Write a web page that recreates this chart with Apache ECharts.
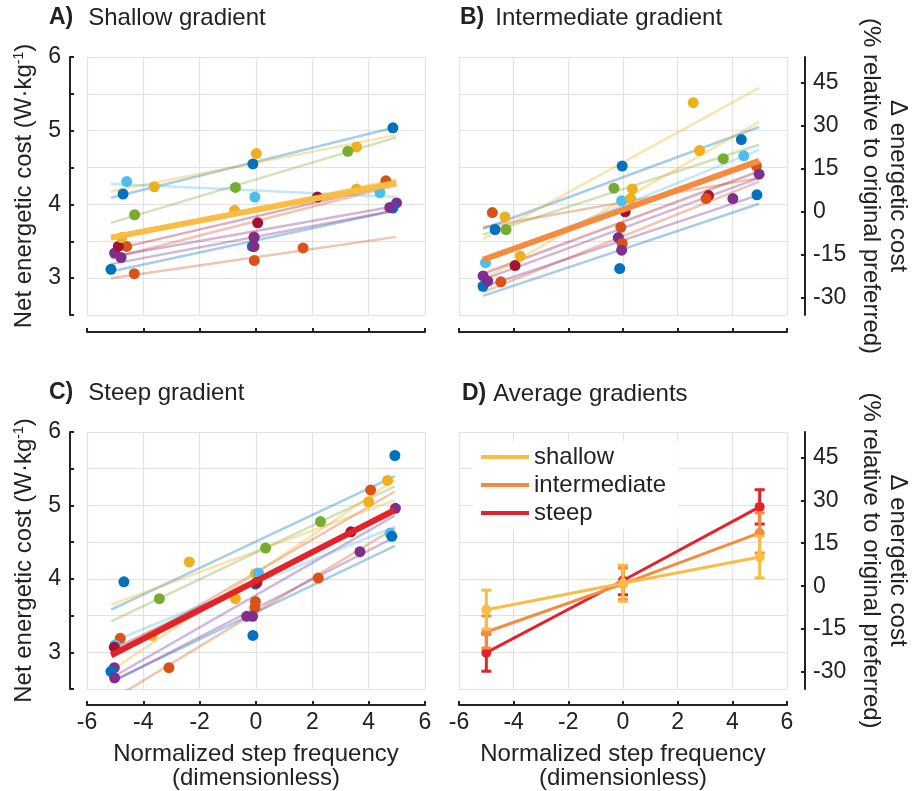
<!DOCTYPE html>
<html>
<head>
<meta charset="utf-8">
<script src="https://cdn.jsdelivr.net/npm/echarts@6/dist/echarts.min.js"></script>
<style>
html,body{margin:0;padding:0;background:#fff}
#chart{width:912px;height:791px}
</style>
</head>
<body>
<div id="chart"></div>
<script>
// 11 subjects, coloured with the matlab colour order
var subjects = ['S1','S2','S3','S4','S5','S6','S7','S8','S9','S10','S11'];

// A) shallow gradient: normalized step frequency / net cost (W/kg), 3 trials per subject
var shallowX = [[-4.72,-0.11,4.86],[-4.59,-0.07,4.61],[-3.61,0.01,3.57],[-5.02,-0.07,4.99],[-4.31,-0.73,3.26],[-4.59,-0.04,4.40],
	[-4.89,0.06,2.18],[-5.15,-0.13,4.86],[-4.32,-0.06,1.67],[-4.77,-0.76,3.57],[-4.79,-0.07,4.75]];
var shallowY = [[4.14,4.55,5.04],[3.43,3.56,4.32],[4.24,4.69,4.78],[3.34,3.55,4.02],[3.86,4.23,4.72],[4.31,4.10,4.16],
	[3.43,3.75,4.10],[3.12,3.43,3.95],[3.06,3.24,3.41],[3.55,3.92,4.21],[3.28,3.43,3.96]];
var shallowFitX = [-5.15, 4.98];
var shallowFit = [[4.09,5.05],[3.27,4.26],[4.18,4.94],[3.29,3.98],[3.75,4.91],[4.28,4.10],
	[3.38,4.28],[3.09,3.92],[3.00,3.56],[3.54,4.34],[3.19,3.92]];
var shallowMean = [3.55, 4.29];

// B) intermediate gradient
var interX = [[-4.68,-0.03,4.33],[-4.78,-0.08,4.88],[-4.32,0.34,2.57],[-5.12,-0.17,4.98],[-4.28,-0.33,3.67],[-5.03,-0.05,4.42],
	[-3.95,0.08,3.13],[-5.12,-0.12,4.90],[-4.47,-0.03,3.04],[-3.76,0.28,2.80],[-4.95,-0.05,4.02]];
var interY = [[3.66,4.52,4.88],[3.89,3.69,4.52],[3.83,4.21,5.38],[3.03,3.55,4.41],[3.66,4.22,4.62],[3.21,4.05,4.66],
	[3.17,3.90,4.12],[2.89,3.13,4.13],[2.95,3.47,4.08],[3.30,4.08,4.73],[2.96,3.38,4.08]];
var interFitX = [-5.12, 4.98];
var interFit = [[3.67,5.05],[3.69,4.36],[3.53,5.58],[2.98,4.36],[3.59,4.81],[3.22,4.74],
	[3.06,4.45],[2.76,4.01],[2.81,4.31],[2.98,5.12],[2.88,4.13]];
var interMean = [3.25, 4.59];

// C) steep gradient
var steepX = [[-4.69,-0.02,4.93],[-4.82,-0.02,4.07],[-2.37,-0.02,4.00],[-5.03,-0.33,4.95],[-3.43,0.34,2.29],[-5.00,0.09,4.76],
	[-5.03,0.03,3.37],[-5.15,-0.11,4.82],[-3.09,-0.04,2.21],[-3.69,-0.73,4.67],[-5.02,-0.12,3.69]];
var steepY = [[3.96,3.93,5.68],[3.19,3.69,5.21],[4.23,4.07,5.05],[2.79,3.49,4.96],[3.73,4.42,4.78],[3.10,4.08,4.62],
	[3.07,3.95,4.64],[2.74,3.23,4.58],[2.79,3.61,4.01],[3.23,3.73,5.34],[2.65,3.49,4.37]];
var steepFitX = [-5.14, 4.93];
var steepFit = [[3.58,5.40],[2.94,5.19],[3.65,5.07],[2.65,4.86],[3.42,5.26],[3.14,4.71],
	[3.03,4.90],[2.60,4.45],[2.35,4.69],[2.75,5.35],[2.59,4.57]];
var steepMean = [2.96, 4.94];

// D) averages, % change in cost relative to original preferred, mean and error
var avgX = [-5, 0, 5];
var shallowAvg = [-8.2, 1.0, 10.2];
var shallowErr = [6.8, 6.3, 7.3];
var interAvg = [-16.0, 0.8, 18.6];
var interErr = [5.6, 5.5, 7.0];
var steepAvg = [-23.2, 2.0, 27.7];
var steepErr = [6.5, 5.0, 6.0];

var pctTicks = [-30, -15, 0, 15, 30, 45];
var baseCost = 3.9; // W/kg that maps to 0 %

var palette = ['#0072BD','#D95319','#EDB120','#7E2F8E','#77AC30','#4DBEEE','#A2142F'];
var gradColors = {shallow:'#F9BC44', intermediate:'#F58B3E', steep:'#E2232A'};
var FONT = '"Liberation Sans", Arial, Helvetica, sans-serif';
var INK = '#222';

var grids = [
	{left:87, top:57, width:338, height:258},
	{left:459, top:57, width:338, height:258},
	{left:87, top:432, width:338, height:259},
	{left:459, top:432, width:338, height:259}
];

var xAxes = [], yAxes = [];
for (var g = 0; g < 4; g++) {
	var bottomRow = g >= 2;
	var leftCol = g % 2 == 0;
	xAxes.push({
		gridIndex:g, type:'value', min:-6, max:6, interval:2, position:'bottom', offset:bottomRow ? 16 : 17,
		axisLine:{show:true, onZero:false, lineStyle:{color:INK, width:2}},
		axisTick:{show:true, inside:true, length:4, lineStyle:{color:INK, width:2}},
		axisLabel:{show:bottomRow, fontSize:23, color:INK, fontFamily:FONT, margin:6},
		splitLine:{show:true, lineStyle:{color:'#e2e2e2', width:1.2}},
		name: bottomRow ? 'Normalized step frequency\n(dimensionless)' : '',
		nameLocation:'middle', nameGap:37,
		nameTextStyle:{fontSize:24, color:INK, fontFamily:FONT, lineHeight:24}
	});
	yAxes.push({
		gridIndex:g, type:'value', min:2.5, max:6, interval:0.5, position:'left', offset:17,
		axisLine:{show:leftCol, onZero:false, lineStyle:{color:INK, width:2}},
		axisTick:{show:leftCol, inside:true, length:4, lineStyle:{color:INK, width:2}},
		axisLabel:{show:leftCol, fontSize:23, color:INK, fontFamily:FONT, margin:9,
			formatter:function(v){ return v % 1 === 0 ? String(v) : ''; }},
		splitLine:{show:true, lineStyle:{color:'#e2e2e2', width:1.2}},
		name: leftCol ? 'Net energetic cost (W·kg{s|-1})' : '',
		nameLocation:'middle', nameRotate:90, nameGap:34,
		nameTextStyle:{fontSize:24, color:INK, fontFamily:FONT,
			rich:{s:{fontSize:14, color:INK, fontFamily:FONT, verticalAlign:'top', lineHeight:14}}}
	});
}
// right hand % axes on B and D
[1, 3].forEach(function(g){
	yAxes.push({
		gridIndex:g, type:'value', position:'right', offset:18,
		min:(2.5 / baseCost - 1) * 100, max:(6 / baseCost - 1) * 100,
		axisLine:{show:true, onZero:false, lineStyle:{color:INK, width:2}},
		axisTick:{show:true, inside:true, length:4, customValues:pctTicks, lineStyle:{color:INK, width:2}},
		axisLabel:{show:true, customValues:pctTicks, fontSize:23, color:INK, fontFamily:FONT, margin:8},
		splitLine:{show:false},
		name:'Δ energetic cost\n(% relative to original preferred)',
		nameLocation:'middle', nameRotate:-90, nameGap:52,
		nameTextStyle:{fontSize:24, color:INK, fontFamily:FONT, lineHeight:27}
	});
});

function panelSeries(gi, xs, ys, fitX, fit, mean, meanColor) {
	var out = [];
	for (var s = 0; s < subjects.length; s++) {
		out.push({
			name:subjects[s], type:'line', xAxisIndex:gi, yAxisIndex:gi, symbol:'none', silent:true, z:2,
			data:[[fitX[0], fit[s][0]], [fitX[1], fit[s][1]]],
			lineStyle:{color:palette[s % 7], width:2.5, opacity:0.35}
		});
	}
	for (var s = 0; s < subjects.length; s++) {
		var pts = [];
		for (var k = 0; k < xs[s].length; k++) pts.push([xs[s][k], ys[s][k]]);
		out.push({
			name:subjects[s], type:'scatter', xAxisIndex:gi, yAxisIndex:gi, symbolSize:11, z:3,
			data:pts, itemStyle:{color:palette[s % 7], opacity:1}
		});
	}
	out.push({
		name:'mean', type:'line', xAxisIndex:gi, yAxisIndex:gi, symbol:'none', z:4,
		data:[[fitX[0], mean[0]], [fitX[1], mean[1]]],
		lineStyle:{color:meanColor, width:6}
	});
	return out;
}

function errorBars(name, avg, err, color, z) {
	var d = [];
	for (var k = 0; k < avgX.length; k++) d.push([avgX[k], avg[k], err[k]]);
	return {
		name:name + '-err', type:'custom', xAxisIndex:3, yAxisIndex:5, z:z, silent:true, data:d,
		renderItem:function(params, api){
			var x = api.value(0), y = api.value(1), e = api.value(2);
			var hi = api.coord([x, y + e]), lo = api.coord([x, y - e]);
			var w = 5, st = {stroke:color, lineWidth:3};
			return {type:'group', children:[
				{type:'line', shape:{x1:hi[0], y1:hi[1], x2:lo[0], y2:lo[1]}, style:st},
				{type:'line', shape:{x1:hi[0]-w, y1:hi[1], x2:hi[0]+w, y2:hi[1]}, style:st},
				{type:'line', shape:{x1:lo[0]-w, y1:lo[1], x2:lo[0]+w, y2:lo[1]}, style:st}
			]};
		}
	};
}

function avgLine(name, avg, color, z) {
	var d = [];
	for (var k = 0; k < avgX.length; k++) d.push([avgX[k], avg[k]]);
	return {
		name:name, type:'line', xAxisIndex:3, yAxisIndex:5, z:z, data:d,
		symbol:'circle', symbolSize:10,
		itemStyle:{color:color}, lineStyle:{color:color, width:3}
	};
}

var series = []
	.concat(panelSeries(0, shallowX, shallowY, shallowFitX, shallowFit, shallowMean, gradColors.shallow))
	.concat(panelSeries(1, interX, interY, interFitX, interFit, interMean, gradColors.intermediate))
	.concat(panelSeries(2, steepX, steepY, steepFitX, steepFit, steepMean, gradColors.steep));
series.push(avgLine('steep', steepAvg, gradColors.steep, 3));
series.push(errorBars('steep', steepAvg, steepErr, gradColors.steep, 3));
series.push(avgLine('intermediate', interAvg, gradColors.intermediate, 4));
series.push(errorBars('intermediate', interAvg, interErr, gradColors.intermediate, 4));
series.push(avgLine('shallow', shallowAvg, gradColors.shallow, 5));
series.push(errorBars('shallow', shallowAvg, shallowErr, gradColors.shallow, 5));

function panelTitle(letter, text, left, top, gap) {
	return {
		text:'{b|' + letter + ')}' + text, left:left, top:top, padding:0,
		textStyle:{fontSize:24, fontWeight:'normal', color:INK, fontFamily:FONT,
			rich:{b:{fontSize:23, fontWeight:'bold', color:INK, fontFamily:FONT, padding:[0,gap,0,0]}}}
	};
}

var chart = echarts.init(document.getElementById('chart'), null, {renderer:'canvas'});
chart.setOption({
	animation:false,
	backgroundColor:'#fff',
	textStyle:{fontFamily:FONT},
	title:[
		panelTitle('A', 'Shallow gradient', 49, 6, 15),
		panelTitle('B', 'Intermediate gradient', 460, 6, 11),
		panelTitle('C', 'Steep gradient', 49, 381, 15),
		panelTitle('D', 'Average gradients', 462, 382, 7)
	],
	legend:{
		data:['shallow', 'intermediate', 'steep'], orient:'vertical', left:473, top:441,
		icon:'rect', itemWidth:48, itemHeight:4, itemGap:4,
		backgroundColor:'#fff', padding:[4, 12, 4, 8],
		textStyle:{fontSize:24, color:INK, fontFamily:FONT}
	},
	grid:grids,
	xAxis:xAxes,
	yAxis:yAxes,
	series:series
});
</script>
</body>
</html>
